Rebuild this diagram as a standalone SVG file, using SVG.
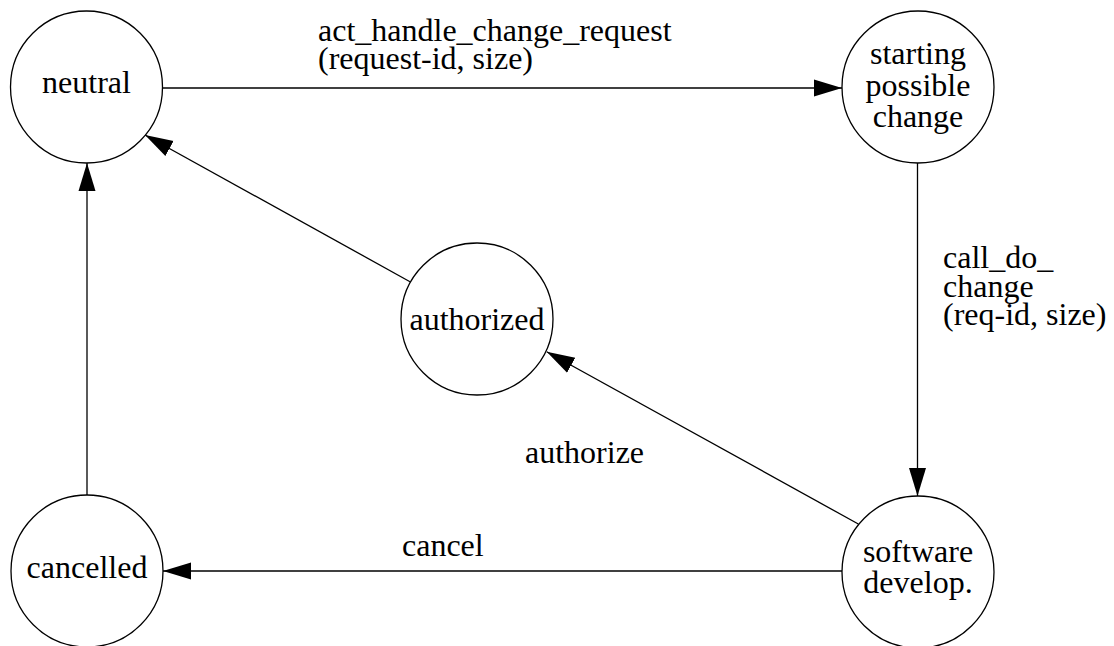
<svg xmlns="http://www.w3.org/2000/svg" width="1114" height="646" viewBox="0 0 1114 646" font-family="'Liberation Serif', 'Times New Roman', 'DejaVu Serif', serif" font-size="32">
<style>
.node circle{fill:#fff;stroke:#000;stroke-width:1.3}
.node text{text-anchor:middle}
.edge{stroke:#000;stroke-width:1.3;fill:none;marker-end:url(#arr)}
</style>
<defs>
<marker id="arr" markerUnits="userSpaceOnUse" markerWidth="30" markerHeight="20" refX="28" refY="8.5" orient="auto" viewBox="0 0 30 17">
<path d="M0,0 L28,8.5 L0,17 Z" fill="#000"/>
</marker>
</defs>
<g id="connectors">
<line class="edge" x1="163" y1="88" x2="842" y2="88"/>
<line class="edge" x1="917.5" y1="163" x2="917.5" y2="496"/>
<line class="edge" x1="842" y1="571" x2="163" y2="571"/>
<line class="edge" x1="87" y1="495" x2="87" y2="163"/>
<line class="edge" x1="858.3" y1="524" x2="546.7" y2="351.7"/>
<line class="edge" x1="410" y1="281.7" x2="145" y2="135"/>
<text x="318" y="41">act_handle_change_request</text>
<text x="318" y="69">(request-id, size)</text>
<text x="943" y="268">call_do_</text>
<text x="943" y="297">change</text>
<text x="943" y="325">(req-id, size)</text>
<text x="525" y="463">authorize</text>
<text x="402" y="556">cancel</text>
</g>
<g id="neutral" class="node"><circle cx="86.5" cy="87" r="76"/><text x="86.5" y="93">neutral</text></g>
<g id="starting" class="node"><circle cx="918" cy="87" r="76"/><text x="918" y="64">starting</text><text x="918" y="96">possible</text><text x="918" y="127">change</text></g>
<g id="authorized" class="node"><circle cx="477" cy="319" r="76"/><text x="477" y="330">authorized</text></g>
<g id="cancelled" class="node"><circle cx="87" cy="571" r="76"/><text x="87" y="578">cancelled</text></g>
<g id="software" class="node"><circle cx="918" cy="572" r="76"/><text x="918" y="562">software</text><text x="918" y="593">develop.</text></g>
</svg>
